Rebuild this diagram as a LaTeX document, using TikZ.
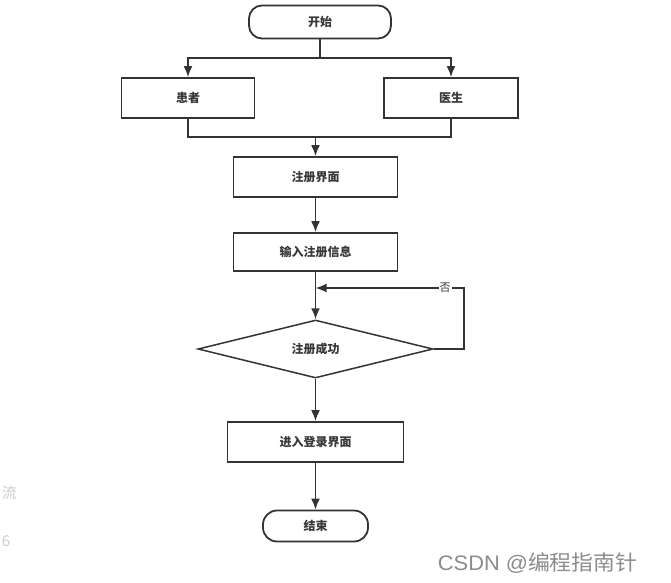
\documentclass[tikz,border=0pt]{standalone}
\usepackage{fontspec}
\newfontfamily\cjk{Noto Sans CJK SC}
\usetikzlibrary{shapes.geometric,arrows.meta}
\begin{document}
\begin{tikzpicture}[x=1pt,y=-1pt,
  line width=1.8pt, draw=black!80,
  every node/.style={font=\cjk\bfseries\fontsize{12}{14}\selectfont, text=black!78},
  box/.style={draw=black!80, line width=1.8pt, rectangle, inner sep=0pt},
  term/.style={draw=black!80, line width=1.8pt, rectangle, rounded corners=13pt, inner sep=0pt},
  dec/.style={draw=black!80, line width=1.5pt, diamond, inner sep=0pt},
  arr/.style={-{Latex[length=11pt,width=9pt]}, line width=1.8pt, draw=black!80}]
\useasboundingbox (0,0) rectangle (671,582);
\fill[white] (0,0) rectangle (671,582);
\node[term, minimum width=142pt, minimum height=33pt] (start) at (320,22) {开始};
\node[box, minimum width=133pt, minimum height=40pt] (pat) at (188,98) {患者};
\node[box, minimum width=134pt, minimum height=40pt] (doc) at (451,98) {医生};
\node[box, minimum width=164pt, minimum height=40pt] (reg) at (315.5,177) {注册界面};
\node[box, minimum width=164pt, minimum height=38pt] (inp) at (315.5,252) {输入注册信息};
\node[dec, minimum width=235pt, minimum height=58pt, aspect=4] (ok) at (315.5,349) {注册成功};
\node[box, minimum width=176pt, minimum height=40pt] (login) at (315.5,442) {进入登录界面};
\node[term, minimum width=105pt, minimum height=31pt, rounded corners=14pt] (end) at (315.5,526) {结束};
\coordinate (split) at (320,58);
\coordinate (merge) at (315.5,137);
\coordinate (join) at (315.5,288);
\coordinate (loopc) at (464,288);
\draw (start.south) -- (split);
\draw[arr] (split) -| (pat.north);
\draw[arr] (split) -| (doc.north);
\draw (pat.south) |- (merge) -| (doc.south);
\draw[arr] (merge) -- (reg.north);
\draw[arr] (reg.south) -- (inp.north);
\draw[arr] (inp.south) -- (ok.north);
\draw[arr] (ok.east) -| (loopc) -- (join);
\node[fill=white, inner sep=1pt, font=\cjk\fontsize{11}{12}\selectfont] (no) at (445,288) {否};
\draw[arr] (ok.south) -- (login.north);
\draw[arr] (login.south) -- (end.north);
\node[text=black!45, font=\fontspec{Liberation Sans}\fontsize{21}{24}\selectfont, anchor=west, inner sep=0pt, xscale=1.04] (wm) at (437,563) {CSDN @{\cjk 编程指南针}};
\node[text=black!20, anchor=west, inner sep=0pt, font=\cjk\fontsize{15}{16}\selectfont] (f1) at (1,493) {流};
\node[text=black!20, anchor=west, inner sep=0pt, font=\cjk\fontsize{15}{16}\selectfont] (f2) at (1,541) {6};
\end{tikzpicture}
\end{document}
